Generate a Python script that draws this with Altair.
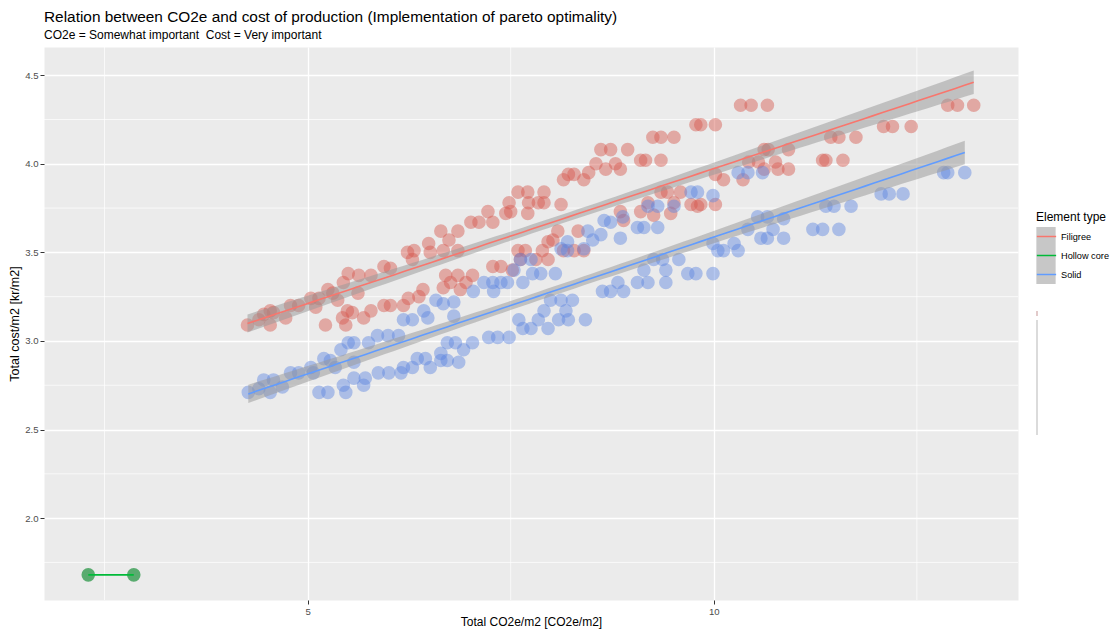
import altair as alt
import numpy as np
import pandas as pd

categories = ["Filigree", "Hollow core", "Solid"]

fil_x = [4.26, 4.40, 4.46, 4.54, 4.54, 4.58, 4.73, 4.79, 4.89, 5.04, 5.10, 5.14, 5.25, 5.31, 5.37,
         5.22, 5.43, 5.47, 5.49, 5.55, 5.69, 5.78, 5.44, 5.50, 5.63, 5.78, 5.62, 5.94, 6.02, 5.94,
         6.02, 6.18, 6.24, 6.23, 6.29, 6.31, 6.42, 6.37, 6.49, 6.51,
         6.64, 6.67, 6.74, 6.85, 6.85, 7.01, 7.11, 7.22, 7.28, 7.44, 7.50, 7.48, 7.59, 7.71, 7.72,
         7.71, 7.84, 7.91, 7.91, 8.12, 8.15, 8.21, 8.28, 8.40, 8.46, 8.55, 8.67, 8.79, 8.85,
         6.70, 6.76, 6.85, 6.88, 6.95, 7.03, 6.67, 7.28, 7.38, 7.52, 7.59, 7.68, 7.62, 7.81, 7.96,
         7.89, 7.96, 8.02, 8.08, 8.33, 8.15, 8.28, 8.40, 8.85, 8.89, 9.10, 9.19, 9.26, 9.35, 9.43,
         9.47, 9.51, 9.59, 9.72, 9.80,
         8.61, 8.73, 8.94, 9.10, 9.16, 9.35, 9.25, 9.35, 9.51, 9.78, 9.84, 10.02,
         10.02, 10.12, 10.36, 9.84, 10.02, 10.43, 10.55, 10.62, 10.67, 10.76, 10.79, 10.92, 10.92,
         10.62, 10.33, 10.46, 10.66,
         11.34, 11.38, 11.59, 11.44, 11.54, 11.75, 12.09, 12.20, 12.43, 12.88, 13.00, 13.20]
fil_y = [3.09, 3.12, 3.15, 3.17, 3.09, 3.16, 3.13, 3.20, 3.20, 3.24, 3.19, 3.24, 3.29, 3.27, 3.23,
         3.09, 3.13, 3.09, 3.17, 3.16, 3.13, 3.17, 3.33, 3.38, 3.37, 3.37, 3.27, 3.42, 3.41, 3.20,
         3.20, 3.20, 3.24, 3.50, 3.46, 3.51, 3.29, 3.25, 3.55, 3.50,
         3.62, 3.51, 3.57, 3.62, 3.51, 3.67, 3.67, 3.73, 3.67, 3.72, 3.73, 3.78, 3.84, 3.84, 3.78,
         3.72, 3.78, 3.84, 3.78, 3.77, 3.91, 3.94, 3.94, 3.91, 3.95, 4.00, 3.97, 4.00, 3.97,
         3.37, 3.33, 3.37, 3.29, 3.33, 3.37, 3.30, 3.42, 3.42, 3.40, 3.51, 3.51, 3.46, 3.46, 3.46,
         3.51, 3.56, 3.57, 3.62, 3.62, 3.51, 3.51, 3.51, 3.73, 3.68, 3.73, 3.78, 3.71, 3.84, 3.84,
         3.72, 3.78, 3.84, 3.77, 3.76,
         4.08, 4.08, 4.08, 4.02, 4.02, 4.02, 4.15, 4.15, 4.15, 4.22, 4.22, 4.22,
         3.94, 3.91, 3.91, 3.77, 3.77, 4.01, 4.01, 4.08, 4.08, 4.01, 3.97, 4.08, 3.97,
         3.97, 4.33, 4.33, 4.33,
         4.02, 4.02, 4.02, 4.15, 4.15, 4.15, 4.21, 4.21, 4.21, 4.33, 4.33, 4.33]

sol_x = [4.27, 4.40, 4.46, 4.54, 4.58, 4.69, 4.79, 4.89, 5.04, 5.07, 5.14, 5.25, 5.20, 5.28, 5.34,
         5.41, 5.44, 5.47, 5.50, 5.57, 5.57, 5.57, 5.69, 5.71, 5.75, 5.86, 5.87, 5.99, 6.00, 6.12,
         6.15, 6.18, 6.18, 6.29, 6.29, 6.35, 6.45, 6.43, 6.48, 6.51, 6.58,
         6.67, 6.80, 6.80, 7.04, 7.17, 7.28, 7.29, 7.38, 7.46, 7.54, 7.62, 7.65, 7.75, 7.77, 7.87,
         8.05, 8.12, 8.20, 8.20, 8.40, 8.45, 8.51, 8.61, 8.65, 8.73, 8.85, 8.88, 9.06, 9.14, 9.19,
         9.31, 9.31, 9.51, 9.72, 9.80,
         6.64, 6.72, 6.82, 6.92, 7.03, 6.64, 6.86, 6.72, 7.23, 7.34, 7.48, 7.60, 7.65, 7.75, 7.84,
         7.96, 7.91, 7.99, 8.12, 8.18, 8.26, 8.09, 8.21, 8.42, 8.63, 8.73, 8.82, 8.89, 9.06, 9.14,
         9.19, 9.26, 9.37, 9.41, 9.41, 9.57, 9.68, 9.78,
         9.99, 10.30, 10.42, 10.60, 9.99, 10.05, 10.12, 10.25, 10.30, 9.99, 10.42, 10.54, 10.66,
         10.58, 10.66, 10.73, 10.86, 10.86,
         11.22, 11.34, 11.54, 11.38, 11.48, 11.69, 12.06, 12.16, 12.33, 12.83, 12.88, 13.09]
sol_y = [2.71, 2.73, 2.78, 2.71, 2.78, 2.74, 2.82, 2.82, 2.85, 2.82, 2.71, 2.71, 2.90, 2.89, 2.85,
         2.95, 2.75, 2.71, 2.99, 2.99, 2.88, 2.79, 2.75, 2.79, 2.99, 3.03, 2.82, 3.03, 2.82, 3.03,
         2.82, 2.85, 3.12, 3.12, 2.85, 2.90, 2.90, 3.17, 3.13, 2.85, 3.23,
         3.21, 3.22, 3.14, 3.28, 3.33, 3.33, 3.28, 3.33, 3.33, 3.40, 3.46, 3.33, 3.46, 3.38, 3.38,
         3.38, 3.52, 3.56, 3.51, 3.52, 3.62, 3.57, 3.60, 3.68, 3.67, 3.58, 3.70, 3.64, 3.64, 3.76,
         3.64, 3.76, 3.76, 3.84, 3.84,
         2.93, 2.99, 2.99, 2.95, 2.99, 2.89, 2.88, 2.89, 3.02, 3.02, 3.02, 3.12, 3.07, 3.07, 3.12,
         3.07, 3.17, 3.23, 3.23, 3.17, 3.23, 3.12, 3.12, 3.12, 3.28, 3.28, 3.33, 3.28, 3.33, 3.40,
         3.33, 3.46, 3.46, 3.40, 3.33, 3.46, 3.38, 3.38,
         3.82, 3.95, 3.95, 3.95, 3.55, 3.51, 3.51, 3.55, 3.51, 3.38, 3.63, 3.70, 3.70,
         3.58, 3.58, 3.63, 3.58, 3.69,
         3.63, 3.63, 3.63, 3.76, 3.76, 3.76, 3.83, 3.83, 3.83, 3.95, 3.95, 3.95]

hol_x = [2.30, 2.86]
hol_y = [1.68, 1.68]

x_ticks = [5, 10]
y_ticks = [2.0, 2.5, 3.0, 3.5, 4.0, 4.5]
x_minor = [2.5, 7.5, 12.5]
y_minor = [1.75, 2.25, 2.75, 3.25, 3.75, 4.25]

point_colors = ["#D7584E", "#158E35", "#5F87E1"]
line_colors = ["#F8766D", "#00BA38", "#619CFF"]

groups = {"Filigree": (fil_x, fil_y), "Hollow core": (hol_x, hol_y), "Solid": (sol_x, sol_y)}

pts = pd.concat([pd.DataFrame({"x": gx, "y": gy, "group": g}) for g, (gx, gy) in groups.items()],
                ignore_index=True)
pts_main = pts[pts["group"] != "Hollow core"]
pts_hc = pts[pts["group"] == "Hollow core"]

# linear fit with 95% confidence band (as geom_smooth(method = "lm"))
fit_rows = []
band_rows = []
for g, (gx, gy) in groups.items():
    ax = np.asarray(gx, float)
    ay = np.asarray(gy, float)
    n = len(ax)
    b, a = np.polyfit(ax, ay, 1)
    grid = np.linspace(ax.min(), ax.max(), 80)
    fitted = a + b * grid
    for xv, yv in zip(grid, fitted):
        fit_rows.append({"x": xv, "y": yv, "group": g})
    if n > 2:
        resid = ay - (a + b * ax)
        s = np.sqrt(np.sum(resid ** 2) / (n - 2))
        sxx = np.sum((ax - ax.mean()) ** 2)
        se = s * np.sqrt(1.0 / n + (grid - ax.mean()) ** 2 / sxx)
        t = 1.98
        for xv, yv, e in zip(grid, fitted, se):
            band_rows.append({"x": xv, "lo": yv - t * e, "hi": yv + t * e, "group": g})
fit = pd.DataFrame(fit_rows)
band = pd.DataFrame(band_rows)

FONT = "Liberation Sans"
xs = alt.Scale(domain=[1.755, 13.745], nice=False, zero=False)
ys = alt.Scale(domain=[1.538, 4.659], nice=False, zero=False)
XT = "Total CO2e/m2 [CO2e/m2]"
YT = "Total cost/m2 [kr/m2]"

x_axis = alt.Axis(values=x_ticks, format="d", grid=True, gridColor="white", gridWidth=1.3,
                  tickColor="#333333", tickSize=4, domain=False, labelColor="#4D4D4D",
                  labelFontSize=9.6, labelFont=FONT, titleFont=FONT, titleFontSize=12,
                  titleColor="black", titleFontWeight="normal", titlePadding=1, labelPadding=2)
y_axis = alt.Axis(values=y_ticks, format=".1f", grid=True, gridColor="white", gridWidth=1.3,
                  tickColor="#333333", tickSize=4, domain=False, labelColor="#4D4D4D",
                  labelFontSize=9.6, labelFont=FONT, titleFont=FONT, titleFontSize=12.5,
                  titleColor="black", titleFontWeight="normal", titlePadding=3, labelPadding=2)

minor_x = alt.Chart(pd.DataFrame({"x": x_minor})).mark_rule(color="white", strokeWidth=0.7).encode(
    x=alt.X("x:Q", scale=xs, axis=x_axis, title=XT))
minor_y = alt.Chart(pd.DataFrame({"y": y_minor})).mark_rule(color="white", strokeWidth=0.7).encode(
    y=alt.Y("y:Q", scale=ys, axis=y_axis, title=YT))

fill_enc = alt.Fill("group:N", scale=alt.Scale(range=point_colors), legend=None)
points = alt.Chart(pts_main).mark_circle(size=185, opacity=0.45, stroke="transparent").encode(
    x=alt.X("x:Q", scale=xs, axis=x_axis, title=XT),
    y=alt.Y("y:Q", scale=ys, axis=y_axis, title=YT),
    fill=fill_enc,
)
points_hc = alt.Chart(pts_hc).mark_circle(size=185, opacity=0.68, stroke="transparent").encode(
    x=alt.X("x:Q", scale=xs, axis=x_axis, title=XT),
    y=alt.Y("y:Q", scale=ys, axis=y_axis, title=YT),
    fill=fill_enc,
)

legend_common = dict(orient="none", legendX=992, legendY=165, padding=0, rowPadding=0,
                     titleFont=FONT, titleFontSize=12, titleColor="black", titleFontWeight="normal",
                     titlePadding=3, labelFont=FONT, labelFontSize=9.2, labelColor="black",
                     labelOffset=4, symbolSize=372, clipHeight=19)

bands = alt.Chart(band).mark_area(opacity=0.52).encode(
    x=alt.X("x:Q", scale=xs, axis=x_axis, title=XT),
    y=alt.Y("lo:Q", scale=ys, axis=y_axis, title=YT),
    y2="hi:Q",
    color=alt.Color("group:N", scale=alt.Scale(domain=categories, range=["#999999"] * 3),
                    legend=alt.Legend(title="Element type", symbolType="square",
                                      symbolOpacity=0.55, symbolStrokeWidth=0,
                                      labelOpacity=0, titleOpacity=0, **legend_common)),
)

lines = alt.Chart(fit).mark_line(strokeWidth=1.6).encode(
    x=alt.X("x:Q", scale=xs, axis=x_axis, title=XT),
    y=alt.Y("y:Q", scale=ys, axis=y_axis, title=YT),
    stroke=alt.Stroke("group:N", scale=alt.Scale(range=line_colors),
                      legend=alt.Legend(title="Element type", symbolType="stroke",
                                        symbolStrokeWidth=1.5, **legend_common)),
    detail="group:N",
)

# remnant of a second (broken) legend at the right edge
stub = alt.Chart(pd.DataFrame({"k": [0]})).mark_rule(color="#CFCFCF", strokeWidth=1.5).encode(
    x=alt.value(993), y=alt.value(273), y2=alt.value(388))
stub2 = alt.Chart(pd.DataFrame({"k": [0]})).mark_rule(color="#D8B8B8", strokeWidth=1.5).encode(
    x=alt.value(993), y=alt.value(264), y2=alt.value(269))

chart = alt.layer(minor_x, minor_y, points, points_hc, bands, lines, stub, stub2).properties(
    width=974, height=553,
    padding={"left": 36, "top": 39, "right": 92, "bottom": 29},
    autosize=alt.AutoSizeParams(type="none"),
    title=alt.TitleParams(
        text="Relation between CO2e and cost of production (Implementation of pareto optimality)",
        subtitle="CO2e = Somewhat important\u00a0 Cost = Very important",
        anchor="start", frame="group", font=FONT, fontSize=15.4, fontWeight="normal",
        color="black", subtitleFont=FONT, subtitleFontSize=12, subtitleColor="black",
        subtitlePadding=4, offset=6),
).configure_view(fill="#EBEBEB", stroke="transparent")

chart.save("out.html", embed_options={"renderer": "svg", "actions": False})
